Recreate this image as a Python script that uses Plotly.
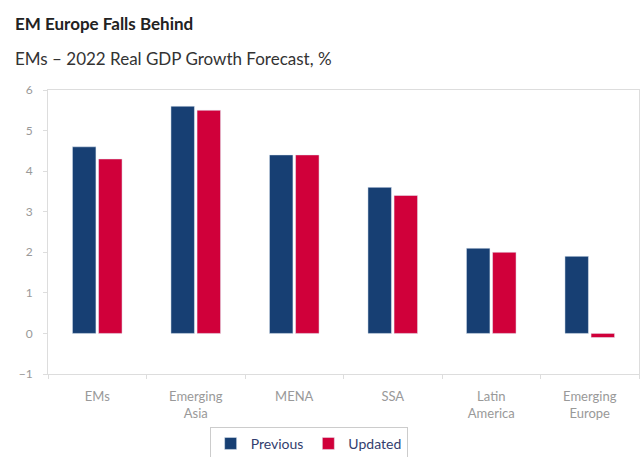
import plotly.graph_objects as go

categories = ["EMs", "Emerging<br>Asia", "MENA", "SSA", "Latin<br>America", "Emerging<br>Europe"]
previous = [4.6, 5.6, 4.4, 3.6, 2.1, 1.9]
updated = [4.3, 5.5, 4.4, 3.4, 2.0, -0.1]
y_ticks = [-1, 0, 1, 2, 3, 4, 5, 6]

NAVY = "#173f73"
RED = "#d0003a"
FONT = "Lato"

fig = go.Figure()
fig.add_trace(go.Bar(name="Previous", x=categories, y=previous, marker_color=NAVY))
fig.add_trace(go.Bar(name="Updated", x=categories, y=updated, marker_color=RED))

fig.update_layout(
    width=643, height=457,
    paper_bgcolor="white", plot_bgcolor="white",
    margin=dict(l=48, r=4, t=90, b=83, autoexpand=False),
    barmode="group", bargap=0.47, bargroupgap=0.1,
    font=dict(family=FONT, color="#888888", size=12),
    showlegend=True,
    legend=dict(
        orientation="h", xref="container", yref="container",
        x=0.48, xanchor="center", y=0.066, yanchor="top",
        bordercolor="#cccccc", borderwidth=1,
        font=dict(size=14, color="#333e6e", family=FONT),
        itemwidth=30, tracegroupgap=0,
    ),
    annotations=[
        dict(text="<b>EM Europe Falls Behind</b>", xref="paper", yref="paper",
             x=-0.06, y=1.233, xanchor="left", yanchor="middle", showarrow=False,
             font=dict(size=17, color="#222222", family=FONT)),
        dict(text="EMs \u2013 2022 Real GDP Growth Forecast, %", xref="paper", yref="paper",
             x=-0.06, y=1.11, xanchor="left", yanchor="middle", showarrow=False,
             font=dict(size=17, color="#333333", family=FONT)),
    ],
)
fig.update_yaxes(
    range=[-1, 6], tickvals=y_ticks, showgrid=False, zeroline=False,
    showline=True, linecolor="#dddddd", mirror=True, automargin=False,
    ticks="outside", ticklen=4, tickcolor="#dddddd", ticklabelstandoff=8,
    tickfont=dict(size=12, color="#999999"),
)
fig.update_xaxes(
    showline=True, linecolor="#dddddd", mirror=True, showgrid=False, automargin=False,
    ticks="outside", ticklen=4, tickcolor="#dddddd", tickson="boundaries",
    ticklabelstandoff=10,
    tickfont=dict(size=13, color="#999999"),
)

fig.write_html("out.html")
